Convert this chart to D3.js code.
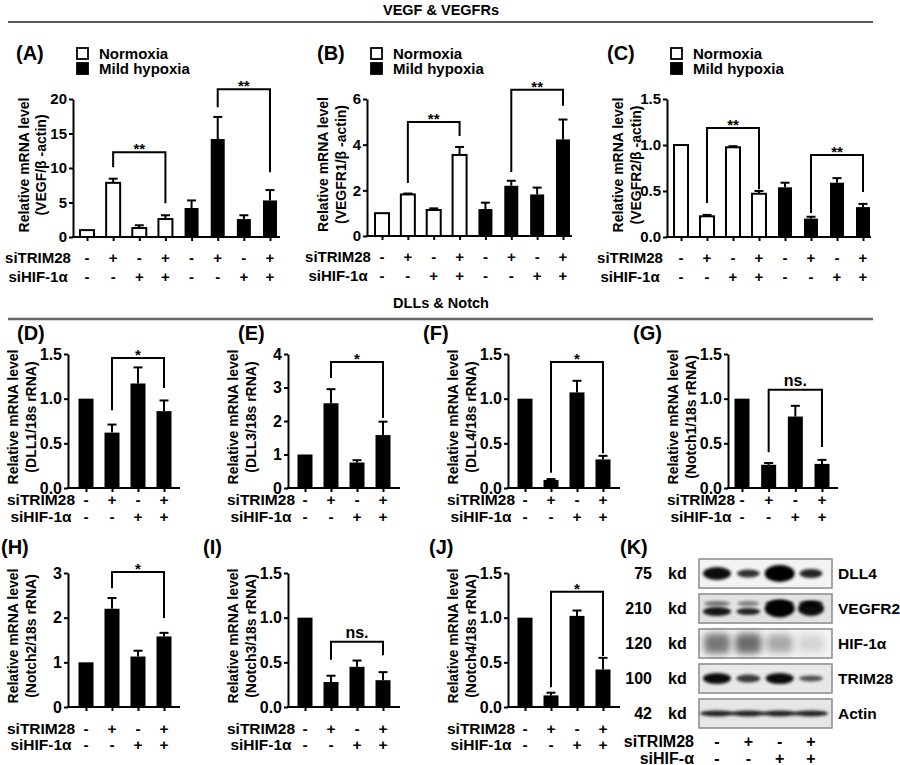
<!DOCTYPE html>
<html><head><meta charset="utf-8">
<script src="https://cdn.jsdelivr.net/npm/d3@7"></script>
<style>
body{margin:0;background:#fff;}
svg{display:block;}
text{font-family:"Liberation Sans",Arial,sans-serif;font-weight:bold;fill:#000;}
</style>
</head><body>
<svg id="c" width="900" height="765"></svg>
<script>
// ---------------- DATA ----------------
const conditions = ["Normoxia","Mild hypoxia"];
const condition8 = ["Normoxia","Normoxia","Normoxia","Normoxia","Mild hypoxia","Mild hypoxia","Mild hypoxia","Mild hypoxia"];
const siTRIM28_8 = ["-","+","-","+","-","+","-","+"];
const siHIF_8    = ["-","-","+","+","-","-","+","+"];
const siTRIM28_4 = ["-","+","-","+"];
const siHIF_4    = ["-","-","+","+"];

const vegfMean   = [1.0, 7.85, 1.3, 2.6, 4.2, 14.2, 2.6, 5.3];
const vegfErr    = [0, 0.6, 0.4, 0.55, 1.1, 3.2, 0.55, 1.5];
const vegfr1Mean = [1.0, 1.82, 1.14, 3.55, 1.18, 2.2, 1.82, 4.23];
const vegfr1Err  = [0, 0.04, 0.07, 0.35, 0.28, 0.22, 0.3, 0.87];
const vegfr2Mean = [1.0, 0.225, 0.975, 0.47, 0.54, 0.2, 0.59, 0.325];
const vegfr2Err  = [0, 0.015, 0.012, 0.03, 0.05, 0.02, 0.05, 0.035];

const dll1Mean   = [1.0, 0.62, 1.17, 0.86];
const dll1Err    = [0, 0.09, 0.18, 0.12];
const dll3Mean   = [1.0, 2.53, 0.76, 1.58];
const dll3Err    = [0, 0.42, 0.07, 0.4];
const dll4Mean   = [1.0, 0.09, 1.07, 0.32];
const dll4Err    = [0, 0.01, 0.13, 0.04];
const notch1Mean = [1.0, 0.26, 0.8, 0.27];
const notch1Err  = [0, 0.02, 0.12, 0.045];
const notch2Mean = [1.0, 2.2, 1.13, 1.58];
const notch2Err  = [0, 0.24, 0.13, 0.08];
const notch3Mean = [1.0, 0.28, 0.45, 0.3];
const notch3Err  = [0, 0.07, 0.07, 0.09];
const notch4Mean = [1.0, 0.13, 1.02, 0.42];
const notch4Err  = [0, 0.03, 0.06, 0.13];

const vegfTicks   = [0, 5, 10, 15, 20];
const vegfr1Ticks = [0, 2, 4, 6];
const ratioTicks  = [0, 0.5, 1.0, 1.5];
const dll3Ticks   = [0, 1, 2, 3, 4];
const notch2Ticks = [0, 1, 2, 3];

const blotProteins = ["DLL4", "VEGFR2", "HIF-1α", "TRIM28", "Actin"];
const blotKd       = ["75", "210", "120", "100", "42"];
const blotDensity  = [[0.95,0.8,1.0,0.85],[0.9,0.85,1.0,0.95],[0.5,0.55,0.3,0.12],[0.95,0.75,0.95,0.65],[0.85,0.85,0.85,0.85]];
const blotThick    = [[13,8,17,9],[9,7,18,15],[20,20,18,16],[11,8,11,6],[6,6,6,6]];
const blotWidth    = [[14,11.5,15,11.5],[14,12,15,13],[13,13,13,13],[14,12,14,12],[17,17,17,17]];
const vegfr2Upper  = [0.5,0.45,0.9,0.85];
const blotBg       = ["#f3f3f3","#e2e2e2","#f2f2f2","#e8e8e8","#e6e6e6"];

// ---------------- DRAW ----------------
const svg = d3.select("#c");

svg.append("text").attr("x",441).attr("y",15).attr("text-anchor","middle").attr("font-size",14.5).text("VEGF & VEGFRs");
svg.append("line").attr("x1",8).attr("x2",873).attr("y1",22).attr("y2",22).attr("stroke","#222").attr("stroke-width",1.5);
svg.append("text").attr("x",441).attr("y",308).attr("text-anchor","middle").attr("font-size",14.5).text("DLLs & Notch");
svg.append("line").attr("x1",8).attr("x2",873).attr("y1",319).attr("y2",319).attr("stroke","#666").attr("stroke-width",2.5);

function barPanel(o){
  const g = svg.append("g");
  const n = o.mean.length;
  const x = d3.scalePoint().domain(d3.range(n)).range([o.c0, o.c1]);
  const y = d3.scaleLinear().domain([0, o.max]).range([o.y0, o.y1]);
  const isOpen = i => o.cond ? o.cond[i] === conditions[0] : false;

  g.selectAll("rect.bar").data(o.mean).join("rect").attr("class","bar")
    .attr("x",(d,i)=>x(i)-o.bw/2).attr("y",d=>y(d))
    .attr("width",o.bw).attr("height",d=>o.y0-y(d))
    .attr("fill",(d,i)=>isOpen(i)?"#fff":"#000")
    .attr("stroke","#000").attr("stroke-width",(d,i)=>isOpen(i)?2:0);

  const ed = o.mean.map((m,i)=>({i, m, e:o.err[i]})).filter(d=>d.e>0);
  g.selectAll("line.ev").data(ed).join("line").attr("class","ev")
    .attr("x1",d=>x(d.i)).attr("x2",d=>x(d.i))
    .attr("y1",d=>y(d.m)).attr("y2",d=>y(d.m+d.e))
    .attr("stroke","#000").attr("stroke-width",2);
  g.selectAll("line.ec").data(ed).join("line").attr("class","ec")
    .attr("x1",d=>x(d.i)-4.5).attr("x2",d=>x(d.i)+4.5)
    .attr("y1",d=>y(d.m+d.e)).attr("y2",d=>y(d.m+d.e))
    .attr("stroke","#000").attr("stroke-width",2);

  const ya = g.append("g").attr("transform",`translate(${o.ax},0)`)
    .call(d3.axisLeft(y).tickValues(o.ticks).tickFormat(d3.format(o.fmt)).tickSize(4).tickSizeOuter(0).tickPadding(2));
  ya.attr("font-size",o.tf);
  ya.selectAll("path,line").attr("stroke","#000").attr("stroke-width",2);

  g.append("line").attr("x1",o.ax-1).attr("x2",o.axEnd).attr("y1",o.y0).attr("y2",o.y0)
    .attr("stroke","#000").attr("stroke-width",2);
  const xa = g.append("g").attr("transform",`translate(0,${o.y0})`)
    .call(d3.axisBottom(x).tickSize(4).tickFormat(""));
  xa.select(".domain").remove();
  xa.selectAll("line").attr("stroke","#000").attr("stroke-width",2);

  const yc = (o.y0+o.y1)/2 - o.tdy;
  [["Relative mRNA level", o.t1], [o.title2, o.t2]].forEach(([t,dx])=>{
    g.append("text").attr("transform",`translate(${o.ax+dx},${yc}) rotate(-90)`)
      .attr("text-anchor","middle").attr("dominant-baseline","central").attr("font-size",14).text(t);
  });

  g.append("text").attr("x",o.lx).attr("y",o.ly).attr("dominant-baseline","central").attr("font-size",20).text(o.label);

  const rows = [["siTRIM28", o.trim, o.rd[0]], ["siHIF-1α", o.hif, o.rd[1]]];
  rows.forEach(([name, signs, dy])=>{
    g.append("text").attr("x",o.ax+o.rx).attr("y",o.y0+dy).attr("text-anchor","middle")
      .attr("dominant-baseline","central").attr("font-size",o.rf).text(name);
    g.selectAll(null).data(signs).join("text")
      .attr("x",(d,i)=>x(i)).attr("y",o.y0+dy).attr("text-anchor","middle")
      .attr("dominant-baseline","central").attr("font-size",o.rf).text(d=>d);
  });

  (o.br||[]).forEach(b=>{
    g.append("path").attr("d",`M${x(b.a)},${y(b.l)}V${y(b.top)}H${x(b.b)}V${y(b.r)}`)
      .attr("fill","none").attr("stroke","#000").attr("stroke-width",2);
    const ns = b.t === "ns.";
    g.append("text").attr("x",(x(b.a)+x(b.b))/2).attr("y",y(b.top)+(ns?-4:2))
      .attr("text-anchor","middle").attr("font-size",ns?16:15).text(b.t);
  });

  if (o.legend){
    conditions.forEach((c,k)=>{
      const ly = 48 + k*15;
      g.append("rect").attr("x",o.ax+4).attr("y",ly).attr("width",11).attr("height",11)
        .attr("fill",k===0?"#fff":"#000").attr("stroke","#000").attr("stroke-width",1.8);
      g.append("text").attr("x",o.ax+26).attr("y",ly+5.5).attr("dominant-baseline","central")
        .attr("font-size",15).text(c);
    });
  }
}

const cfgTop = {y0:237, y1:99, bw:14, tf:15, rf:15, rd:[20,39], tdy:3, ly:53, legend:true, cond:condition8, trim:siTRIM28_8, hif:siHIF_8};
barPanel({...cfgTop, mean:vegfMean, err:vegfErr, ax:73, axEnd:280, c0:87, c1:270, max:20, ticks:vegfTicks, fmt:"d",
  title2:"(VEGF/β -actin)", t1:-49, t2:-32, label:"(A)", lx:16, rx:-35,
  br:[{a:1,b:3,top:12.3,l:10.1,r:4.9,t:"**"},{a:5,b:7,top:21.4,l:18.8,r:9.4,t:"**"}]});
barPanel({...cfgTop, mean:vegfr1Mean, err:vegfr1Err, ax:367, axEnd:572, c0:382, c1:563, y0:236, max:6, ticks:vegfr1Ticks, fmt:"d",
  title2:"(VEGFR1/β -actin)", t1:-44, t2:-26, label:"(B)", lx:317, rx:-29,
  br:[{a:1,b:3,top:4.99,l:2.32,r:4.38,t:"**"},{a:5,b:7,top:6.4,l:2.8,r:5.7,t:"**"}]});
barPanel({...cfgTop, mean:vegfr2Mean, err:vegfr2Err, ax:667, axEnd:871, c0:681, c1:863, max:1.5, ticks:ratioTicks, fmt:".1f",
  title2:"(VEGFR2/β -actin)", t1:-49, t2:-31, label:"(C)", lx:607, rx:-37,
  br:[{a:1,b:3,top:1.185,l:0.37,r:0.52,t:"**"},{a:5,b:7,top:0.89,l:0.26,r:0.49,t:"**"}]});

const cfgMid = {y0:488, y1:354, bw:15, tf:16, rf:15.5, rd:[11,28], tdy:4, ly:333, t1:-55, t2:-37, rx:-27, trim:siTRIM28_4, hif:siHIF_4, fmt:".1f", ticks:ratioTicks, max:1.5};
barPanel({...cfgMid, mean:dll1Mean, err:dll1Err, ax:68, axEnd:180, c0:86, c1:164, title2:"(DLL1/18s rRNA)", label:"(D)", lx:17,
  br:[{a:1,b:3,top:1.455,l:0.87,r:1.12,t:"*"}]});
barPanel({...cfgMid, mean:dll3Mean, err:dll3Err, ax:288, axEnd:400, c0:305, c1:383, max:4, ticks:dll3Ticks, fmt:"d", title2:"(DLL3/18s rRNA)", label:"(E)", lx:238,
  br:[{a:1,b:3,top:3.76,l:3.28,r:2.09,t:"*"}]});
barPanel({...cfgMid, mean:dll4Mean, err:dll4Err, ax:508, axEnd:620, c0:525, c1:603, title2:"(DLL4/18s rRNA)", label:"(F)", lx:423,
  br:[{a:1,b:3,top:1.41,l:0.17,r:0.39,t:"*"}]});
barPanel({...cfgMid, mean:notch1Mean, err:notch1Err, ax:728, axEnd:838, c0:742, c1:822, title2:"(Notch1/18s rRNA)", label:"(G)", lx:633,
  br:[{a:1,b:3,top:1.1,l:0.4,r:0.46,t:"ns."}]});

const cfgBot = {...cfgMid, y0:707, y1:573, rd:[21,37], ly:547};
barPanel({...cfgBot, mean:notch2Mean, err:notch2Err, ax:68, axEnd:180, c0:86, c1:164, max:3, ticks:notch2Ticks, fmt:"d", title2:"(Notch2/18s rRNA)", label:"(H)", lx:1,
  br:[{a:1,b:3,top:3.02,l:2.66,r:1.99,t:"*"}]});
barPanel({...cfgBot, mean:notch3Mean, err:notch3Err, ax:288, axEnd:400, c0:305, c1:383, title2:"(Notch3/18s rRNA)", label:"(I)", lx:203,
  br:[{a:1,b:3,top:0.73,l:0.53,r:0.58,t:"ns."}]});
barPanel({...cfgBot, mean:notch4Mean, err:notch4Err, ax:508, axEnd:620, c0:525, c1:603, title2:"(Notch4/18s rRNA)", label:"(J)", lx:429,
  br:[{a:1,b:3,top:1.29,l:0.22,r:0.57,t:"*"}]});

// ---------------- WESTERN BLOT (K) ----------------
const defs = svg.append("defs");
defs.append("filter").attr("id","blur").attr("x","-50%").attr("y","-100%").attr("width","200%").attr("height","300%")
  .append("feGaussianBlur").attr("stdDeviation",1.6);
defs.append("filter").attr("id","blur2").attr("x","-50%").attr("y","-100%").attr("width","200%").attr("height","300%")
  .append("feGaussianBlur").attr("stdDeviation",3.5);

const kg = svg.append("g");
kg.append("text").attr("x",620).attr("y",547).attr("dominant-baseline","central").attr("font-size",20).text("(K)");
const rowS = d3.scaleBand().domain(blotProteins).range([559,728]).paddingInner(0.17);
const laneS = d3.scalePoint().domain(d3.range(4)).range([717,811]);

blotProteins.forEach((p,r)=>{
  const yTop = rowS(p), h = rowS.bandwidth(), yc = yTop + h/2;
  kg.append("rect").attr("x",699).attr("y",yTop).attr("width",133).attr("height",h)
    .attr("fill", blotBg[r]).attr("stroke","#8a8a8a").attr("stroke-width",1.5);
  const isSmear = p === "HIF-1α";
  blotDensity[r].forEach((d,l)=>{
    if (isSmear){
      kg.append("rect").attr("x",laneS(l)-blotWidth[r][l]).attr("y",yc-blotThick[r][l]/2)
        .attr("width",blotWidth[r][l]*2).attr("height",blotThick[r][l]).attr("rx",5)
        .attr("fill","#000").attr("opacity",d).attr("filter","url(#blur2)");
    } else {
      if (p === "VEGFR2"){
        kg.append("ellipse").attr("cx",laneS(l)).attr("cy",yc-5).attr("rx",blotWidth[r][l]-1).attr("ry",2.5)
          .attr("fill","#000").attr("opacity",vegfr2Upper[l]).attr("filter","url(#blur)");
      }
      const off = (p === "VEGFR2" && blotThick[r][l] < 12) ? 3 : 0;
      kg.append("ellipse").attr("cx",laneS(l)).attr("cy",yc+off)
        .attr("rx",blotWidth[r][l]).attr("ry",blotThick[r][l]/2)
        .attr("fill","#000").attr("opacity",d).attr("filter","url(#blur)");
    }
  });
  kg.append("text").attr("x",652).attr("y",yc).attr("text-anchor","end").attr("dominant-baseline","central")
    .attr("font-size",16).text(blotKd[r]);
  kg.append("text").attr("x",668).attr("y",yc).attr("dominant-baseline","central").attr("font-size",16).text("kd");
  kg.append("text").attr("x",838).attr("y",yc).attr("dominant-baseline","central").attr("font-size",15.5).text(p);
});
[["siTRIM28", siTRIM28_4, 741], ["siHIF-α", siHIF_4, 758]].forEach(([name, signs, yy])=>{
  kg.append("text").attr("x",694).attr("y",yy).attr("text-anchor","end").attr("dominant-baseline","central").attr("font-size",16).text(name);
  kg.selectAll(null).data(signs).join("text").attr("x",(d,i)=>laneS(i)).attr("y",yy)
    .attr("text-anchor","middle").attr("dominant-baseline","central").attr("font-size",16).text(d=>d);
});
</script>
</body></html>
